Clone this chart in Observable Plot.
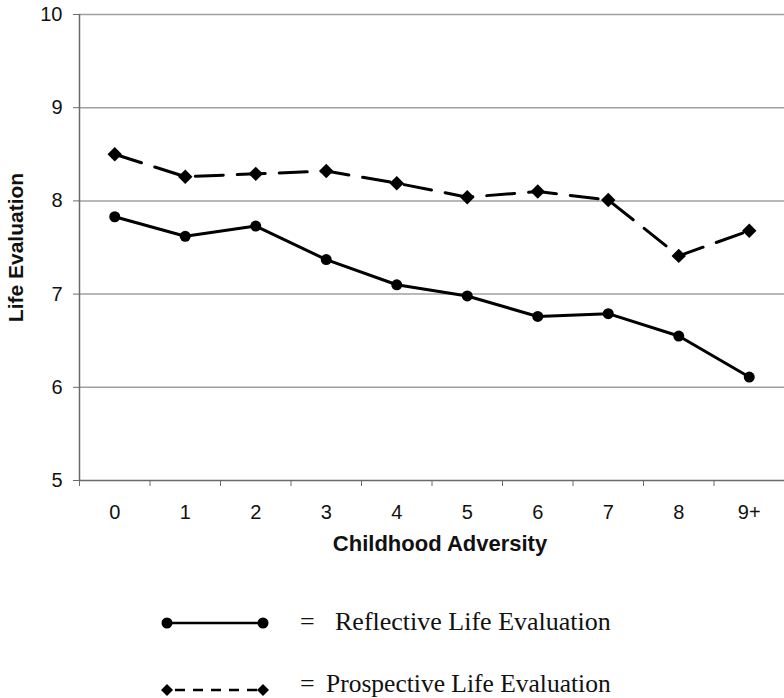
<!DOCTYPE html>
<html><head><meta charset="utf-8">
<script src="https://cdn.jsdelivr.net/npm/d3@7"></script>
<script src="https://cdn.jsdelivr.net/npm/@observablehq/plot@0.6"></script>
<style>
body{margin:0;background:#fff;font-family:"Liberation Sans",Arial,sans-serif}
#wrap{position:relative;width:784px;height:698px;overflow:hidden}
#legend{position:absolute;left:0;top:570px}
</style></head><body><div id="wrap"></div>
<script>
const categories = ["0","1","2","3","4","5","6","7","8","9+"];
const reflective = [7.83,7.62,7.73,7.37,7.10,6.98,6.76,6.79,6.55,6.11];
const prospective = [8.50,8.26,8.29,8.32,8.19,8.04,8.10,8.01,7.41,7.68];
const yTicks = [5,6,7,8,9,10];
const seriesNames = ["Reflective Life Evaluation","Prospective Life Evaluation"];
const xTitle = "Childhood Adversity";
const yTitle = "Life Evaluation";

const refl = categories.map((c,i)=>({i, c, v: reflective[i]}));
const pros = categories.map((c,i)=>({i, c, v: prospective[i]}));
const cats = categories.map((c,i)=>({i, c}));
const boundaries = d3.range(categories.length + 1).map(k => k - 0.5);

const chart = Plot.plot({
  width: 784, height: 570,
  marginLeft: 79, marginRight: 0, marginTop: 14, marginBottom: 90,
  style: {fontFamily: '"Liberation Sans", Arial, sans-serif', fontSize: "20px", color: "#000", background: "#fff", overflow: "visible"},
  x: {type: "linear", domain: [-0.5, categories.length - 0.5]},
  y: {domain: [5, 10]},
  marks: [
    Plot.ruleY(yTicks.filter(t => t > 5), {stroke: "#a0a0a0", strokeWidth: 1.5}),
    Plot.ruleX([-0.5], {stroke: "#6a6a6a", strokeWidth: 1.5}),
    Plot.ruleY([5], {stroke: "#6a6a6a", strokeWidth: 1.5}),
    Plot.axisY({ticks: yTicks, tickSize: 6, tickFormat: () => "", label: null, stroke: "#6a6a6a"}),
    Plot.axisX({ticks: boundaries, tickSize: 6, tickFormat: () => "", label: null, stroke: "#6a6a6a"}),
    Plot.text(yTicks, {y: d => d, text: d => String(d), frameAnchor: "left", textAnchor: "end", dx: -17, fontSize: 20, fill: "#111"}),
    Plot.text(cats, {x: "i", text: "c", frameAnchor: "bottom", dy: 38, fontSize: 20, fill: "#111"}),
    Plot.line(pros, {x: "i", y: "v", stroke: "#000", strokeWidth: 3, strokeDasharray: "28,14"}),
    Plot.dot(pros, {x: "i", y: "v", symbol: "diamond2", r: 6.5, fill: "#000", stroke: "none"}),
    Plot.line(refl, {x: "i", y: "v", stroke: "#000", strokeWidth: 3}),
    Plot.dot(refl, {x: "i", y: "v", r: 5.5, fill: "#000", stroke: "none"}),
    Plot.text([xTitle], {text: d => d, frameAnchor: "bottom", dy: 70, dx: 8, fontWeight: "bold", fontSize: 22, fill: "#111"}),
    Plot.text([yTitle], {text: d => d, frameAnchor: "left", textAnchor: "middle", dx: -63, rotate: -90, fontWeight: "bold", fontSize: 21, fill: "#111"})
  ]
});
const wrap = document.getElementById("wrap");
wrap.appendChild(chart);

// legend
const ns = "http://www.w3.org/2000/svg";
const lg = document.createElementNS(ns, "svg");
lg.setAttribute("id", "legend");
lg.setAttribute("width", 784);
lg.setAttribute("height", 128);
function el(tag, attrs, text){
  const e = document.createElementNS(ns, tag);
  for (const k in attrs) e.setAttribute(k, attrs[k]);
  if (text) e.textContent = text;
  lg.appendChild(e);
  return e;
}
const serif = '"Liberation Serif", "Times New Roman", serif';
// row 1
el("line", {x1:167, x2:263, y1:53, y2:53, stroke:"#000", "stroke-width":2.5});
el("circle", {cx:167, cy:53, r:5.5, fill:"#000"});
el("circle", {cx:263, cy:53, r:5.5, fill:"#000"});
el("text", {x:300, y:60, "font-family":serif, "font-size":26, fill:"#111"}, "=");
el("text", {x:335, y:60, "font-family":serif, "font-size":26, fill:"#111"}, seriesNames[0]);
// row 2
el("line", {x1:167, x2:263, y1:120, y2:120, stroke:"#000", "stroke-width":2.5, "stroke-dasharray":"10,8", "stroke-dashoffset":-8});
const dia = (cx, cy, s) => `M${cx},${cy-s}L${cx+s},${cy}L${cx},${cy+s}L${cx-s},${cy}Z`;
el("path", {d: dia(167,120,6), fill:"#000"});
el("path", {d: dia(263,120,6), fill:"#000"});
el("text", {x:300, y:122, "font-family":serif, "font-size":26, fill:"#111"}, "=");
el("text", {x:326, y:122, "font-family":serif, "font-size":25.5, fill:"#111"}, seriesNames[1]);
wrap.appendChild(lg);
</script>
</body></html>
